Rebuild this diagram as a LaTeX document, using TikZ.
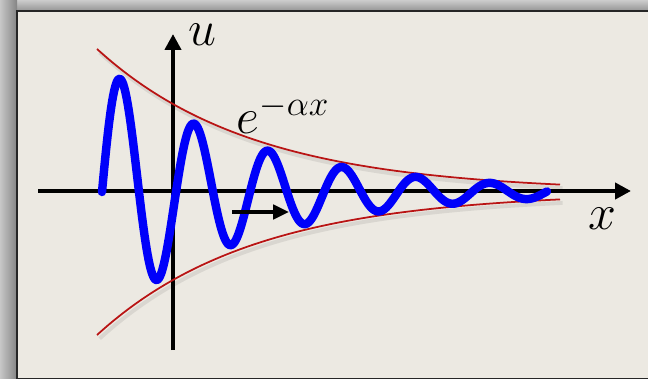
\RequirePackage{fix-cm}
\documentclass[tikz,border=0pt]{standalone}
\usetikzlibrary{arrows.meta}
\definecolor{bgpaper}{RGB}{236,233,226}
\definecolor{wavecol}{RGB}{0,0,250}
\definecolor{envcol}{RGB}{185,20,20}
\begin{document}
\begin{tikzpicture}[x=0.02cm,y=-0.02cm,
  axis/.style={line width=2.3pt, black, -{Triangle[length=9pt,width=9pt]}},
  motion/.style={line width=2.3pt, black, -{Triangle[length=9pt,width=8pt]}},
  wavestyle/.style={line width=4.8pt, wavecol, line join=round, line cap=round},
  envstyle/.style={line width=1pt, envcol},
  envshadow/.style={line width=2.2pt, black, opacity=0.08},
  lbl/.style={inner sep=0pt, font=\fontsize{28.5}{33}\selectfont}]
\useasboundingbox (0,0) rectangle (648,378);
% outer shadow
\fill[white] (0,0) rectangle (648,378);
\shade[top color=black!20, bottom color=black!42] (0,0) rectangle (648,11);
\shade[left color=black!22, right color=black!48] (0,0) rectangle (17,378);
% frame
\filldraw[fill=bgpaper, draw=black!85, line width=1.1pt] (17,11) rectangle (660,379);
% axes
\coordinate (xs) at (38,191);
\coordinate (xe) at (631,191);
\coordinate (ys) at (173,350);
\coordinate (ye) at (173,34);
% envelope shadows
\draw[envshadow, domain=97:560, samples=120, xshift=1.5pt, yshift=-2pt]
  plot (\x, {192-143*exp(-0.0064*(\x-97))});
\draw[envshadow, domain=97:560, samples=120, xshift=1.5pt, yshift=-2pt]
  plot (\x, {192+143*exp(-0.0064*(\x-97))});
\draw[axis] (xs) -- (xe);
\draw[axis] (ys) -- (ye);
% envelopes
\draw[envstyle, domain=97:560, samples=150]
  plot (\x, {192-143*exp(-0.0064*(\x-97))});
\draw[envstyle, domain=97:560, samples=150]
  plot (\x, {192+143*exp(-0.0064*(\x-97))});
% damped wave
\draw[wavestyle, domain=0:445, samples=400]
  plot ({\x+102}, {192-128*exp(-0.0068*\x)*sin(4.86486*\x)});
% motion arrow
\coordinate (ms) at (232,212);
\coordinate (me) at (289,212);
\draw[motion] (ms) -- (me);
% labels
\node[lbl] (ulab) at (202,35) {$u$};
\node[lbl] (xlab) at (602,219) {$x$};
\node[lbl] (elab) at (283,114) {$e^{-\alpha x}$};
\end{tikzpicture}
\end{document}
